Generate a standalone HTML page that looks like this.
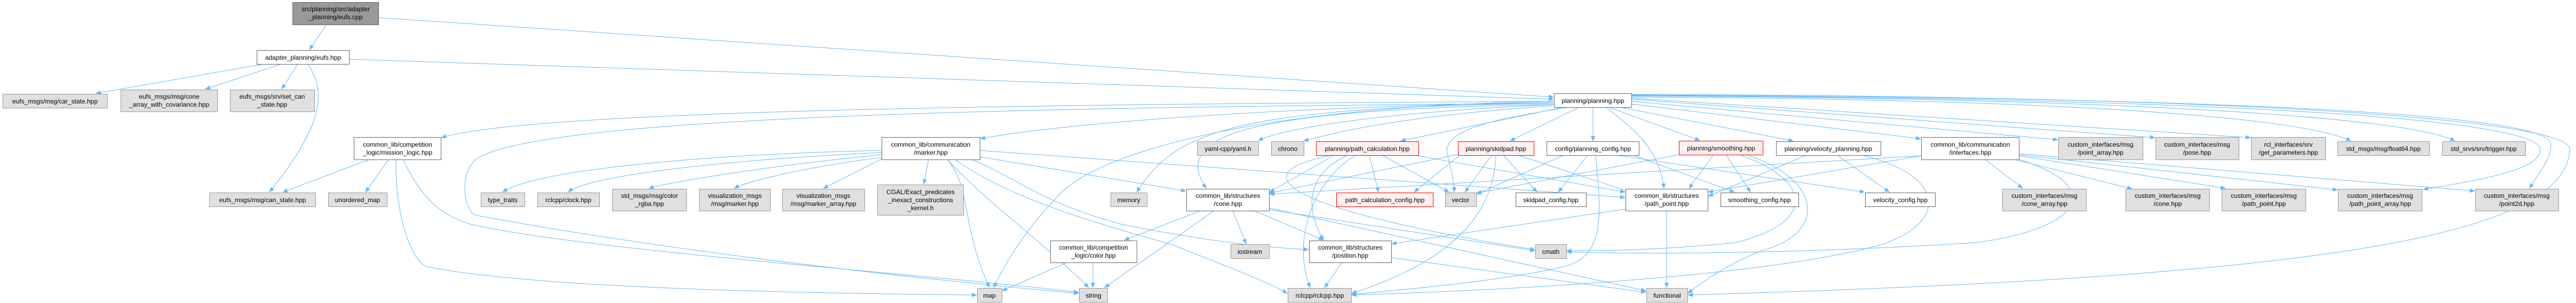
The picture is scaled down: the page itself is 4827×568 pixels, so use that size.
<!DOCTYPE html>
<html><head><meta charset="utf-8"><style>
html,body{margin:0;padding:0;background:#fff;}
svg{display:block;}
text{font-family:"Liberation Sans",Arial,sans-serif;font-size:12px;fill:#000;text-anchor:middle;}
.w{fill:#fff;stroke:#666;stroke-width:1;}
.g{fill:#e0e0e0;stroke:#999;stroke-width:1;}
.r{fill:#fff0f0;stroke:#f00;stroke-width:1;}
.root{fill:#999;stroke:#666;stroke-width:1;}
.e path{fill:none;stroke:#63b8ff;stroke-width:1;marker-end:url(#a);}
</style></head><body>
<svg width="4827" height="568" viewBox="0 0 4827 568" xmlns="http://www.w3.org/2000/svg">
<defs><marker id="a" markerWidth="10" markerHeight="8" refX="9" refY="4" orient="auto" markerUnits="userSpaceOnUse"><path d="M0,0 L10,4 L0,8 z" fill="#63b8ff"/></marker></defs>
<g class="e">
<path d="M612,46 L580,93"/>
<path d="M709,33 L2911,182"/>
<path d="M654,111 L2911,186"/>
<path d="M495,120 L180,175"/>
<path d="M528,120 L385,167"/>
<path d="M558,120 L528,167"/>
<path d="M577,120 C610,170 610,230 505,360"/>
<path d="M692,299 L530,360"/>
<path d="M728,299 L685,360"/>
<path d="M742,299 C740,400 770,490 800,500 C1000,540 1500,550 1830,553"/>
<path d="M755,299 C790,370 820,400 880,420 C1100,470 1700,510 2021,548"/>
<path d="M2911,190 C2000,195 1000,205 827,258"/>
<path d="M2911,192 C2400,200 2000,230 1837,260"/>
<path d="M2911,194 C2000,200 1000,215 890,300 C860,330 870,390 889,403 C1300,480 1800,530 2021,550"/>
<path d="M1652,282 C1300,290 1000,320 942,360"/>
<path d="M1652,286 C1350,300 1100,330 1065,360"/>
<path d="M1652,290 C1450,310 1260,340 1216,353"/>
<path d="M1652,295 C1500,315 1400,340 1376,353"/>
<path d="M1652,298 L1543,353"/>
<path d="M1740,299 L1731,345"/>
<path d="M1775,299 C1820,350 1800,420 1854,539"/>
<path d="M1775,299 C1850,380 1950,450 2040,539"/>
<path d="M1836,294 L2222,358"/>
<path d="M1820,299 C1900,330 1950,380 2100,420 C2300,460 2400,465 2452,468"/>
<path d="M1836,282 L3045,370"/>
<path d="M1790,299 C1900,380 2100,430 2200,460 C2300,500 2380,530 2412,550"/>
<path d="M2911,196 C2600,210 2400,240 2358,264"/>
<path d="M2911,198 C2600,220 2500,250 2443,264"/>
<path d="M2911,194 C2300,200 2200,250 2130,360"/>
<path d="M2911,190 C2300,200 2050,300 1990,360 C1920,430 1880,500 1862,539"/>
<path d="M2911,196 C2300,205 2200,260 2260,353"/>
<path d="M2925,202 L2625,264"/>
<path d="M2957,202 L2830,264"/>
<path d="M2985,202 L2985,264"/>
<path d="M3017,202 L3185,263"/>
<path d="M3040,202 L3360,264"/>
<path d="M3057,195 L3599,260"/>
<path d="M3057,190 L3856,262"/>
<path d="M3057,186 L4038,258"/>
<path d="M3057,184 L4217,258"/>
<path d="M3057,182 C3800,185 4300,215 4405,264"/>
<path d="M3057,180 C3900,183 4500,215 4600,264"/>
<path d="M3057,179 C4300,185 4760,230 4760,280 C4760,310 4700,330 4541,355"/>
<path d="M3057,178 C4300,183 4780,220 4780,270 C4780,300 4760,320 4740,353"/>
<path d="M3057,177 C4300,180 4820,230 4815,280 C4810,450 4300,520 3163,553"/>
<path d="M2935,202 C2820,220 2700,240 2712,290 C2720,320 2725,340 2725,360"/>
<path d="M3010,202 C3060,240 3110,280 3118,353"/>
<path d="M2566,291 L2583,360"/>
<path d="M2590,291 L2715,360"/>
<path d="M2650,291 L3045,360"/>
<path d="M2540,291 C2460,340 2420,450 2455,539"/>
<path d="M2500,291 L2379,360"/>
<path d="M2525,291 C2440,330 2450,400 2480,450"/>
<path d="M2495,291 C2300,330 2450,400 2876,468"/>
<path d="M2795,291 L2745,360"/>
<path d="M2817,291 L2880,360"/>
<path d="M2845,291 L3055,360"/>
<path d="M2803,291 C2800,380 2750,480 2533,550"/>
<path d="M2735,291 L2650,360"/>
<path d="M2735,289 L2379,362"/>
<path d="M2975,291 L2920,360"/>
<path d="M2930,291 L2767,364"/>
<path d="M3060,291 L3250,360"/>
<path d="M3030,291 L3494,360"/>
<path d="M2990,291 C3000,400 3010,480 2930,500 C2800,530 2600,545 2533,552"/>
<path d="M3210,291 L3165,353"/>
<path d="M3235,291 L3280,360"/>
<path d="M3146,290 L2767,362"/>
<path d="M3262,291 C3400,340 3400,420 3250,455 C3100,470 3000,470 2936,470"/>
<path d="M3275,291 C3420,340 3420,440 3300,470 C3250,490 3200,520 3163,550"/>
<path d="M3443,291 L3540,360"/>
<path d="M3385,291 L3201,368"/>
<path d="M3490,291 C3650,330 3650,420 3520,460 C3300,520 2800,545 2533,553"/>
<path d="M3720,299 L3790,353"/>
<path d="M3775,299 L3995,354"/>
<path d="M3783,292 L4170,353"/>
<path d="M3783,290 L4380,356"/>
<path d="M3783,288 L4637,358"/>
<path d="M3600,292 L3201,360"/>
<path d="M3600,292 L2379,364"/>
<path d="M3783,299 C3950,350 3900,430 3700,455 C3300,480 3000,475 2936,472"/>
<path d="M2250,395 L2107,450"/>
<path d="M2275,395 L2070,539"/>
<path d="M2310,395 L2335,457"/>
<path d="M2350,395 L2480,450"/>
<path d="M2378,393 L2876,470"/>
<path d="M2378,390 L3084,545"/>
<path d="M2000,492 L1878,545"/>
<path d="M2048,492 L2048,539"/>
<path d="M2515,492 L2482,539"/>
<path d="M2607,483 L3084,548"/>
<path d="M3046,392 L2608,457"/>
<path d="M3123,395 L3123,539"/>
</g>
<g>
<rect class="root" x="548.5" y="4.5" width="161" height="42"/><text x="629" y="21">src/planning/src/adapter</text><text x="629" y="36">_planning/eufs.cpp</text>
<rect class="w" x="481.5" y="94.5" width="173" height="26"/><text x="568" y="112">adapter_planning/eufs.hpp</text>
<rect class="g" x="5.5" y="176.5" width="196" height="26"/><text x="103" y="194">eufs_msgs/msg/car_state.hpp</text>
<rect class="g" x="226.5" y="168.5" width="181" height="41"/><text x="317" y="185">eufs_msgs/msg/cone</text><text x="317" y="200">_array_with_covariance.hpp</text>
<rect class="g" x="431.5" y="168.5" width="158" height="41"/><text x="510" y="185">eufs_msgs/srv/set_can</text><text x="510" y="200">_state.hpp</text>
<rect class="w" x="663.5" y="257.5" width="163" height="42"/><text x="745" y="275">common_lib/competition</text><text x="745" y="290">_logic/mission_logic.hpp</text>
<rect class="g" x="392.5" y="361.5" width="199" height="26"/><text x="492" y="379">eufs_msgs/msg/can_state.hpp</text>
<rect class="g" x="615.5" y="361.5" width="110" height="26"/><text x="670" y="379">unordered_map</text>
<rect class="g" x="901.5" y="361.5" width="82" height="26"/><text x="942" y="379">type_traits</text>
<rect class="g" x="1007.5" y="361.5" width="116" height="26"/><text x="1065" y="379">rclcpp/clock.hpp</text>
<rect class="g" x="1147.5" y="354.5" width="139" height="41"/><text x="1217" y="371">std_msgs/msg/color</text><text x="1217" y="386">_rgba.hpp</text>
<rect class="g" x="1310.5" y="354.5" width="133" height="41"/><text x="1377" y="371">visualization_msgs</text><text x="1377" y="386">/msg/marker.hpp</text>
<rect class="g" x="1466.5" y="354.5" width="154" height="41"/><text x="1543" y="371">visualization_msgs</text><text x="1543" y="386">/msg/marker_array.hpp</text>
<rect class="w" x="1652.5" y="257.5" width="184" height="42"/><text x="1744" y="275">common_lib/communication</text><text x="1744" y="290">/marker.hpp</text>
<rect class="g" x="1644.5" y="346.5" width="161" height="57"/><text x="1725" y="364">CGAL/Exact_predicates</text><text x="1725" y="379">_inexact_constructions</text><text x="1725" y="394">_kernel.h</text>
<rect class="g" x="2081.5" y="361.5" width="68" height="26"/><text x="2115" y="379">memory</text>
<rect class="w" x="2223.5" y="354.5" width="155" height="41"/><text x="2301" y="371">common_lib/structures</text><text x="2301" y="386">/cone.hpp</text>
<rect class="g" x="2243.5" y="265.5" width="115" height="26"/><text x="2301" y="283">yaml-cpp/yaml.h</text>
<rect class="g" x="2382.5" y="265.5" width="61" height="26"/><text x="2413" y="283">chrono</text>
<rect class="w" x="1968.5" y="451.5" width="162" height="41"/><text x="2049" y="468">common_lib/competition</text><text x="2049" y="483">_logic/color.hpp</text>
<rect class="g" x="2306.5" y="458.5" width="72" height="26"/><text x="2342" y="476">iostream</text>
<rect class="g" x="1831.5" y="540.5" width="46" height="26"/><text x="1854" y="558">map</text>
<rect class="g" x="2022.5" y="540.5" width="53" height="26"/><text x="2049" y="558">string</text>
<rect class="w" x="2912.5" y="175.5" width="145" height="26"/><text x="2985" y="193">planning/planning.hpp</text>
<rect class="r" x="2466.5" y="265.5" width="192" height="26"/><text x="2562" y="283">planning/path_calculation.hpp</text>
<rect class="r" x="2732.5" y="265.5" width="142" height="26"/><text x="2803" y="283">planning/skidpad.hpp</text>
<rect class="w" x="2898.5" y="265.5" width="173" height="26"/><text x="2985" y="283">config/planning_config.hpp</text>
<rect class="r" x="3146.5" y="264.5" width="157" height="26"/><text x="3225" y="282">planning/smoothing.hpp</text>
<rect class="r" x="2504.5" y="361.5" width="181" height="26"/><text x="2595" y="379">path_calculation_config.hpp</text>
<rect class="g" x="2708.5" y="361.5" width="58" height="26"/><text x="2737" y="379">vector</text>
<rect class="w" x="2840.5" y="361.5" width="132" height="26"/><text x="2906" y="379">skidpad_config.hpp</text>
<rect class="w" x="3046.5" y="354.5" width="154" height="41"/><text x="3123" y="371">common_lib/structures</text><text x="3123" y="386">/path_point.hpp</text>
<rect class="w" x="2453.5" y="451.5" width="154" height="41"/><text x="2530" y="468">common_lib/structures</text><text x="2530" y="483">/position.hpp</text>
<rect class="g" x="2877.5" y="458.5" width="58" height="26"/><text x="2906" y="476">cmath</text>
<rect class="g" x="2413.5" y="540.5" width="119" height="26"/><text x="2473" y="558">rclcpp/rclcpp.hpp</text>
<rect class="g" x="3085.5" y="540.5" width="77" height="26"/><text x="3124" y="558">functional</text>
<rect class="w" x="3328.5" y="265.5" width="196" height="26"/><text x="3426" y="283">planning/velocity_planning.hpp</text>
<rect class="w" x="3600.5" y="257.5" width="183" height="42"/><text x="3692" y="275">common_lib/communication</text><text x="3692" y="290">/interfaces.hpp</text>
<rect class="g" x="3857.5" y="257.5" width="158" height="42"/><text x="3936" y="275">custom_interfaces/msg</text><text x="3936" y="290">/point_array.hpp</text>
<rect class="w" x="3224.5" y="361.5" width="146" height="26"/><text x="3297" y="379">smoothing_config.hpp</text>
<rect class="w" x="3495.5" y="361.5" width="131" height="26"/><text x="3561" y="379">velocity_config.hpp</text>
<rect class="g" x="3752.5" y="354.5" width="157" height="41"/><text x="3831" y="371">custom_interfaces/msg</text><text x="3831" y="386">/cone_array.hpp</text>
<rect class="g" x="3983.5" y="354.5" width="157" height="41"/><text x="4062" y="371">custom_interfaces/msg</text><text x="4062" y="386">/cone.hpp</text>
<rect class="g" x="4039.5" y="257.5" width="156" height="42"/><text x="4117" y="275">custom_interfaces/msg</text><text x="4117" y="290">/pose.hpp</text>
<rect class="g" x="4218.5" y="257.5" width="139" height="42"/><text x="4288" y="275">rcl_interfaces/srv</text><text x="4288" y="290">/get_parameters.hpp</text>
<rect class="g" x="4380.5" y="265.5" width="172" height="26"/><text x="4466" y="283">std_msgs/msg/float64.hpp</text>
<rect class="g" x="4576.5" y="265.5" width="156" height="26"/><text x="4654" y="283">std_srvs/srv/trigger.hpp</text>
<rect class="g" x="4163.5" y="354.5" width="157" height="41"/><text x="4242" y="371">custom_interfaces/msg</text><text x="4242" y="386">/path_point.hpp</text>
<rect class="g" x="4381.5" y="354.5" width="157" height="41"/><text x="4460" y="371">custom_interfaces/msg</text><text x="4460" y="386">/path_point_array.hpp</text>
<rect class="g" x="4638.5" y="354.5" width="156" height="41"/><text x="4716" y="371">custom_interfaces/msg</text><text x="4716" y="386">/point2d.hpp</text>
</g>
</svg>
</body></html>
